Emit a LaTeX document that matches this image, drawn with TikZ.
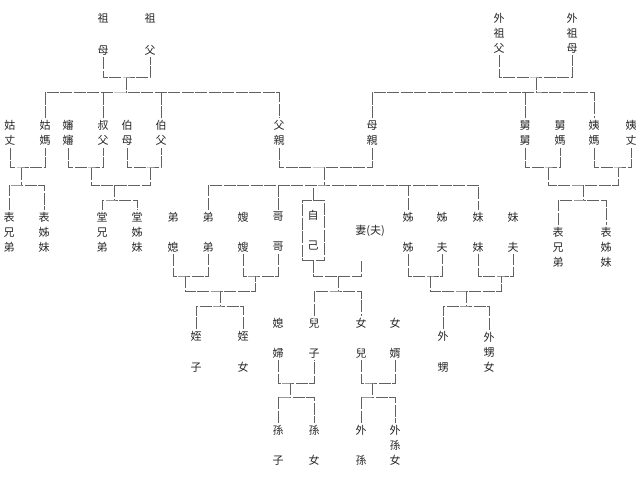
\documentclass[tikz,border=0pt]{standalone}
\usepackage{fontspec}
\newfontfamily\kinfont{Noto Sans CJK TC}
\usetikzlibrary{positioning}

\tikzset{
    kin/.style={font=\kinfont\fontsize{11}{15}\selectfont, text=black!85, align=center, inner sep=2pt},
    kinline/.style={draw=black!62, line width=1pt, dash pattern=on 12pt off 1.5pt},
    selfbox/.style={kin, draw=black!62, line width=1pt, dash pattern=on 12pt off 1.5pt, minimum width=22pt, minimum height=60pt}
}

\begin{document}
\begin{tikzpicture}[x=1pt, y=-1pt]
        \useasboundingbox (0,0) rectangle (640,484);

        \node[kin] (zumu) at (103,34) {祖\\[17pt]母};
        \node[kin] (zufu) at (150,34) {祖\\[17pt]父};
        \node[kin] (guzhang) at (10,133) {姑\\丈};
        \node[kin] (guma) at (45,133) {姑\\媽};
        \node[kin] (shenshen) at (68,133) {嬸\\嬸};
        \node[kin] (shufu) at (103,133) {叔\\父};
        \node[kin] (bomu) at (127,133) {伯\\母};
        \node[kin] (bofu) at (161,133) {伯\\父};
        \node[kin] (biaoxiong) at (9,232) {表\\兄\\弟};
        \node[kin] (biaozi) at (44,232) {表\\姊\\妹};
        \node[kin] (tangxiong) at (102,232) {堂\\兄\\弟};
        \node[kin] (tangzi) at (137,232) {堂\\姊\\妹};
        \node[kin] (fuqin) at (279,133) {父\\親};
        \node[kin] (muqin) at (372,133) {母\\親};

        \node[kin] (waizufu) at (499,33) {外\\祖\\父};
        \node[kin] (waizumu) at (572,33) {外\\祖\\母};
        \node[kin] (jiujiu) at (525,133) {舅\\舅};
        \node[kin] (jiuma) at (560,133) {舅\\媽};
        \node[kin] (yima) at (594,133) {姨\\媽};
        \node[kin] (yizhang) at (631,133) {姨\\丈};
        \node[kin] (biaoxiong2) at (558,247) {表\\兄\\弟};
        \node[kin] (biaozi2) at (606,247) {表\\姊\\妹};

        \node[kin] (dixi) at (173,232) {弟\\[15pt]媳};
        \node[kin] (didi) at (208,232) {弟\\[15pt]弟};
        \node[kin] (saosao) at (243,232) {嫂\\[15pt]嫂};
        \node[kin] (gege) at (278,232) {哥\\[15pt]哥};
        \node[selfbox] (ziji) at (313,230) {自\\[15pt]己};
        \node[kin] (qi) at (370,231) {妻(夫)};
        \node[kin] (jiejie) at (408,232) {姊\\[15pt]姊};
        \node[kin] (jiefu) at (442,232) {姊\\[15pt]夫};
        \node[kin] (meimei) at (478,232) {妹\\[15pt]妹};
        \node[kin] (meifu) at (513,232) {妹\\[15pt]夫};

        \node[kin] (zhizi) at (196,352) {姪\\[16pt]子};
        \node[kin] (zhinv) at (243,352) {姪\\[16pt]女};
        \node[kin] (xifu) at (278,338) {媳\\[15pt]婦};
        \node[kin] (erzi) at (314,338) {兒\\[15pt]子};
        \node[kin] (nver) at (361,338) {女\\[15pt]兒};
        \node[kin] (nvxu) at (395,338) {女\\[15pt]婿};
        \node[kin] (waisheng) at (443,352) {外\\[16pt]甥};
        \node[kin] (waishengnv) at (489,352) {外\\甥\\女};
        \node[kin] (sunzi) at (278,445) {孫\\[15pt]子};
        \node[kin] (sunnv) at (314,445) {孫\\[15pt]女};
        \node[kin] (waisun) at (361,445) {外\\[15pt]孫};
        \node[kin] (waisunnv) at (395,445) {外\\孫\\女};

        \coordinate (c1) at (126,78);
        \coordinate (c2) at (126,93);
        \coordinate (c3) at (21,168);
        \coordinate (c4) at (21,185);
        \coordinate (c5) at (91,168);
        \coordinate (c6) at (150,168);
        \coordinate (c7) at (114,185);
        \coordinate (c8) at (114,200);
        \coordinate (c9) at (536,78);
        \coordinate (c10) at (536,93);
        \coordinate (c11) at (548,168);
        \coordinate (c12) at (618,168);
        \coordinate (c13) at (583,185);
        \coordinate (c14) at (583,200);
        \coordinate (c15) at (324,168);
        \coordinate (c16) at (324,185);
        \coordinate (c17) at (185,276);
        \coordinate (c18) at (255,276);
        \coordinate (c19) at (220,291);
        \coordinate (c20) at (220,306);
        \coordinate (c21) at (338,276);
        \coordinate (c22) at (338,291);
        \coordinate (c23) at (290,383);
        \coordinate (c24) at (290,397);
        \coordinate (c25) at (372,383);
        \coordinate (c26) at (372,397);
        \coordinate (c27) at (430,276);
        \coordinate (c28) at (501,276);
        \coordinate (c29) at (466,291);
        \coordinate (c30) at (466,306);

        \draw[kinline] (zumu.south) |- (c1) -| (zufu.south);
        \draw[kinline] (c1) -- (c2);
        \draw[kinline] (guma.north) |- (c2) -| (fuqin.north);
        \draw[kinline] (shufu.north) -- (shufu.north |- c2);
        \draw[kinline] (bofu.north) -- (bofu.north |- c2);

        \draw[kinline] (guzhang.south) |- (c3) -| (guma.south);
        \draw[kinline] (c3) -- (c4);
        \draw[kinline] (biaoxiong.north) |- (c4) -| (biaozi.north);

        \draw[kinline] (shenshen.south) |- (c5) -| (shufu.south);
        \draw[kinline] (bomu.south) |- (c6) -| (bofu.south);
        \draw[kinline] (c5) |- (c7) -| (c6);
        \draw[kinline] (c7) -- (c8);
        \draw[kinline] (tangxiong.north) |- (c8) -| (tangzi.north);

        \draw[kinline] (waizufu.south) |- (c9) -| (waizumu.south);
        \draw[kinline] (c9) -- (c10);
        \draw[kinline] (muqin.north) |- (c10) -| (yima.north);
        \draw[kinline] (jiujiu.north) -- (jiujiu.north |- c10);

        \draw[kinline] (jiujiu.south) |- (c11) -| (jiuma.south);
        \draw[kinline] (yima.south) |- (c12) -| (yizhang.south);
        \draw[kinline] (c11) |- (c13) -| (c12);
        \draw[kinline] (c13) -- (c14);
        \draw[kinline] (biaoxiong2.north) |- (c14) -| (biaozi2.north);

        \draw[kinline] (fuqin.south) |- (c15) -| (muqin.south);
        \draw[kinline] (c15) -- (c16);
        \draw[kinline] (didi.north) |- (c16) -| (meimei.north);
        \draw[kinline] (gege.north) -- (gege.north |- c16);
        \draw[kinline] (ziji.north) -- (ziji.north |- c16);
        \draw[kinline] (jiejie.north) -- (jiejie.north |- c16);

        \draw[kinline] (dixi.south) |- (c17) -| (didi.south);
        \draw[kinline] (saosao.south) |- (c18) -| (gege.south);
        \draw[kinline] (c17) |- (c19) -| (c18);
        \draw[kinline] (c19) -- (c20);
        \draw[kinline] (zhizi.north) |- (c20) -| (zhinv.north);

        \draw[kinline] (ziji.south) |- (c21) -| (nver |- ziji.south);
        \draw[kinline] (c21) -- (c22);
        \draw[kinline] (erzi.north) |- (c22) -| (nver.north);

        \draw[kinline] (xifu.south) |- (c23) -| (erzi.south);
        \draw[kinline] (c23) -- (c24);
        \draw[kinline] (sunzi.north) |- (c24) -| (sunnv.north);

        \draw[kinline] (nver.south) |- (c25) -| (nvxu.south);
        \draw[kinline] (c25) -- (c26);
        \draw[kinline] (waisun.north) |- (c26) -| (waisunnv.north);

        \draw[kinline] (jiejie.south) |- (c27) -| (jiefu.south);
        \draw[kinline] (meimei.south) |- (c28) -| (meifu.south);
        \draw[kinline] (c27) |- (c29) -| (c28);
        \draw[kinline] (c29) -- (c30);
        \draw[kinline] (waisheng.north) |- (c30) -| (waishengnv.north);

    \end{tikzpicture}
\end{document}
